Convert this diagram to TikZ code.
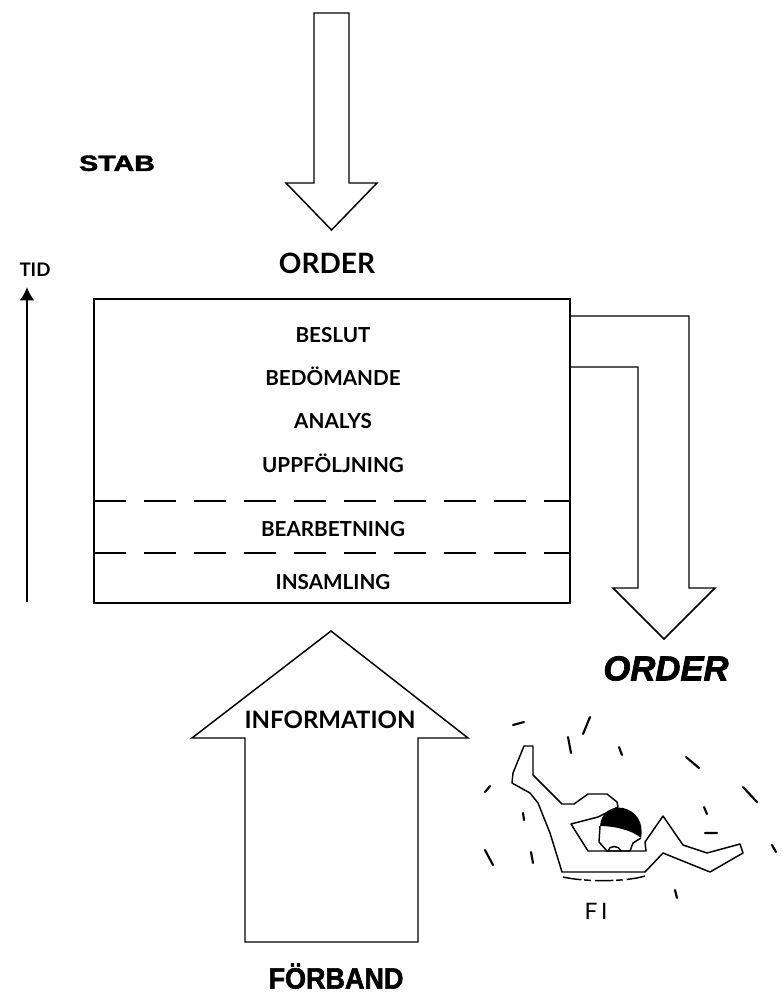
\documentclass[tikz,border=0pt]{standalone}
\usepackage{fontspec}
\setmainfont{Lato}
\newfontfamily\heavyfont{Liberation Sans}[BoldFeatures={FakeBold=2},
    BoldItalicFeatures={FakeBold=2}]
\usetikzlibrary{arrows.meta,positioning}

\tikzstyle{phase} = [font=\bfseries\fontsize{15.5}{18}\selectfont, inner sep=0pt,
    text height=11.1pt, text depth=0pt]
\tikzstyle{ordertop} = [font=\bfseries\fontsize{21}{24}\selectfont, inner sep=0pt,
    text height=15pt, text depth=0pt]
\tikzstyle{info} = [font=\bfseries\fontsize{18}{21}\selectfont, inner sep=0pt,
    text height=12.9pt, text depth=0pt]
\tikzstyle{small} = [font=\bfseries\fontsize{14}{16}\selectfont, inner sep=0pt,
    text height=10pt, text depth=0pt]
\tikzstyle{thin} = [font=\fontsize{17}{20}\selectfont, inner sep=0pt,
    text height=12.2pt, text depth=0pt]
\tikzstyle{heavy} = [font=\heavyfont\bfseries\fontsize{16.5}{20}\selectfont, inner sep=0pt,
    text height=11.8pt, text depth=0pt, xscale=1.3]
\tikzstyle{heavyit} = [font=\heavyfont\bfseries\itshape\fontsize{26}{30}\selectfont, inner sep=0pt,
    text height=18.6pt, text depth=0pt]
\tikzstyle{narrow} = [font=\heavyfont\bfseries\fontsize{22}{26}\selectfont, inner sep=0pt,
    text height=15.8pt, text depth=0pt, xscale=0.92]
\tikzstyle{fat} = [draw, line width=1.1pt, line join=miter]
\tikzstyle{rule} = [line width=1.1pt, dash pattern=on 24pt off 13.5pt]
\tikzstyle{speck} = [line width=1.6pt, line cap=round]

\begin{document}
\begin{tikzpicture}[x=0.75pt, y=-0.75pt, >={Latex[length=10pt,width=11pt]}, node distance=32.4pt]
\useasboundingbox (0,0) rectangle (782,995);

    % Nodes
    \node [heavy] (stab) at (117,163) {STAB};
    \node [ordertop] (order) at (327,263) {ORDER};
    \node [small] (tid) at (35,270) {TID};
    \node [phase] (beslut) at (333,335) {BESLUT};
    \node [phase, below of=beslut] (bedomande) {BEDÖMANDE};
    \node [phase, below of=bedomande] (analys) {ANALYS};
    \node [phase, below of=analys] (uppfoljning) {UPPFÖLJNING};
    \node [phase] (bearbetning) at (333,529) {BEARBETNING};
    \node [phase] (insamling) at (333,582) {INSAMLING};
    \node [heavyit] (ordergo) at (666,668) {ORDER};
    \node [info] (information) at (330,720) {INFORMATION};
    \node [narrow] (forband) at (336,978) {FÖRBAND};
    \node [thin] (fi) at (596,911) {F\,I};
    \coordinate (tidbot) at (27,602);
    \coordinate (tidtop) at (27,287);

    % Box
    \draw [line width=1.1pt] (94,299) rectangle (570,603);
    \draw [rule] (94,501) -- (570,501);
    \draw [rule] (94,553) -- (570,553);

    % Arrows
    \draw [fat] (314,13) -- (349,13) -- (349,183) -- (377,183) -- (331.5,230)
        -- (286,183) -- (314,183) -- cycle;
    \draw [fat] (570,316) -- (689,316) -- (689,588) -- (715,588) -- (664,639)
        -- (613,588) -- (638,588) -- (638,367) -- (570,367);
    \draw [fat] (245,942) -- (245,738) -- (192,738) -- (331,631) -- (468,738)
        -- (418,738) -- (418,942) -- cycle;
    \draw [->, line width=1.5pt] (tidbot) -- (tidtop);

    % FI
    \draw [line width=1.1pt, line join=round] (524,746) -- (533,746) -- (533,775)
        -- (562,804) -- (574,804) -- (588,794) -- (607,794) -- (617,802) -- (618,807)
        -- (598,817) -- (571,824) -- (588,851) -- (646,851) -- (645,842) -- (663,816)
        -- (683,845) -- (707,853) -- (740,844) -- (743,853) -- (710,872) -- (663,853)
        -- (645,872) -- (562,872) -- (550,833) -- (538,803) -- (530,793) -- (512,783)
        -- (513,773) -- cycle;
    \fill (600,826) .. controls (601,812) and (612,806) .. (623,808)
        .. controls (636,811) and (644,822) .. (641,838)
        .. controls (632,830) and (614,826) .. (600,826) -- cycle;
    \draw [line width=1.1pt, line join=round] (600,826) -- (599,842) -- (607,851)
        -- (630,851) -- (633,843) -- (641,838);
    \draw [line width=1.1pt] (608,851) .. controls (609,845) and (619,845) .. (621,851);
    \draw [line width=1.1pt, dash pattern=on 14pt off 2pt on 5pt off 3pt]
        (563,877) .. controls (585,882) and (625,882) .. (645,876);
    \draw [speck] (513,725) -- (524,722) (583,734) -- (590,717) (568,737) -- (571,753)
        (619,747) -- (622,755) (686,757) -- (699,768) (743,787) -- (757,802)
        (485,792) -- (490,786) (523,813) -- (524,820) (704,807) -- (707,814)
        (705,833) -- (717,833) (772,845) -- (776,852) (485,850) -- (493,865)
        (531,852) -- (533,863) (675,890) -- (677,898);

\end{tikzpicture}
\end{document}
